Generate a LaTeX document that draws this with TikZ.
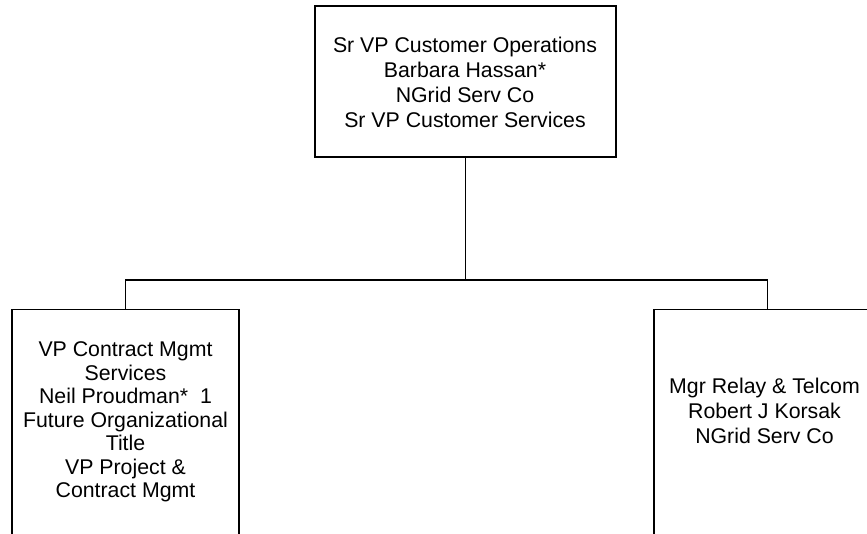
\documentclass[tikz,border=0pt]{standalone}
\usepackage{fontspec}
\setmainfont{Liberation Sans}
\begin{document}
\begin{tikzpicture}[x=1pt,y=-1pt,
  box/.style={draw=black, line width=1.4pt, fill=white, inner sep=0pt},
  conn/.style={draw=black, line width=1.4pt},
  lbl/.style={font=\fontsize{21.3}{25}\selectfont, align=center, inner sep=0pt, anchor=north, text=black},
  lbltight/.style={lbl, font=\fontsize{21.3}{23.55}\selectfont}]
\useasboundingbox (0,0) rectangle (867,534);
\fill[white] (0,0) rectangle (867,534);
\begin{scope}
\clip (0,0) rectangle (867,534);
\node[box, minimum width=301pt, minimum height=151pt] (top) at (465.5,81.5) {};
\node[box, minimum width=227pt, minimum height=260pt, anchor=north] (left) at (125.5,309) {};
\node[box, minimum width=227pt, minimum height=260pt, anchor=north] (right) at (767.5,309) {};
\coordinate (bus) at (465.5,280);
\draw[conn] (top.south) -- (bus);
\draw[conn] (left.north) |- (bus) -| (right.north);
\node[lbl] (toptext) at (465,36.5) {Sr VP Customer Operations\\Barbara Hassan*\\NGrid Serv Co\\Sr VP Customer Services};
\node[lbltight] (lefttext) at (125.5,341.5) {VP Contract Mgmt\\Services\\Neil Proudman*\ \ 1\\Future Organizational\\Title\\VP Project \&\\Contract Mgmt};
\node[lbl] (righttext) at (764.5,378) {Mgr Relay \& Telcom\\Robert J Korsak\\NGrid Serv Co};
\end{scope}
\end{tikzpicture}
\end{document}
